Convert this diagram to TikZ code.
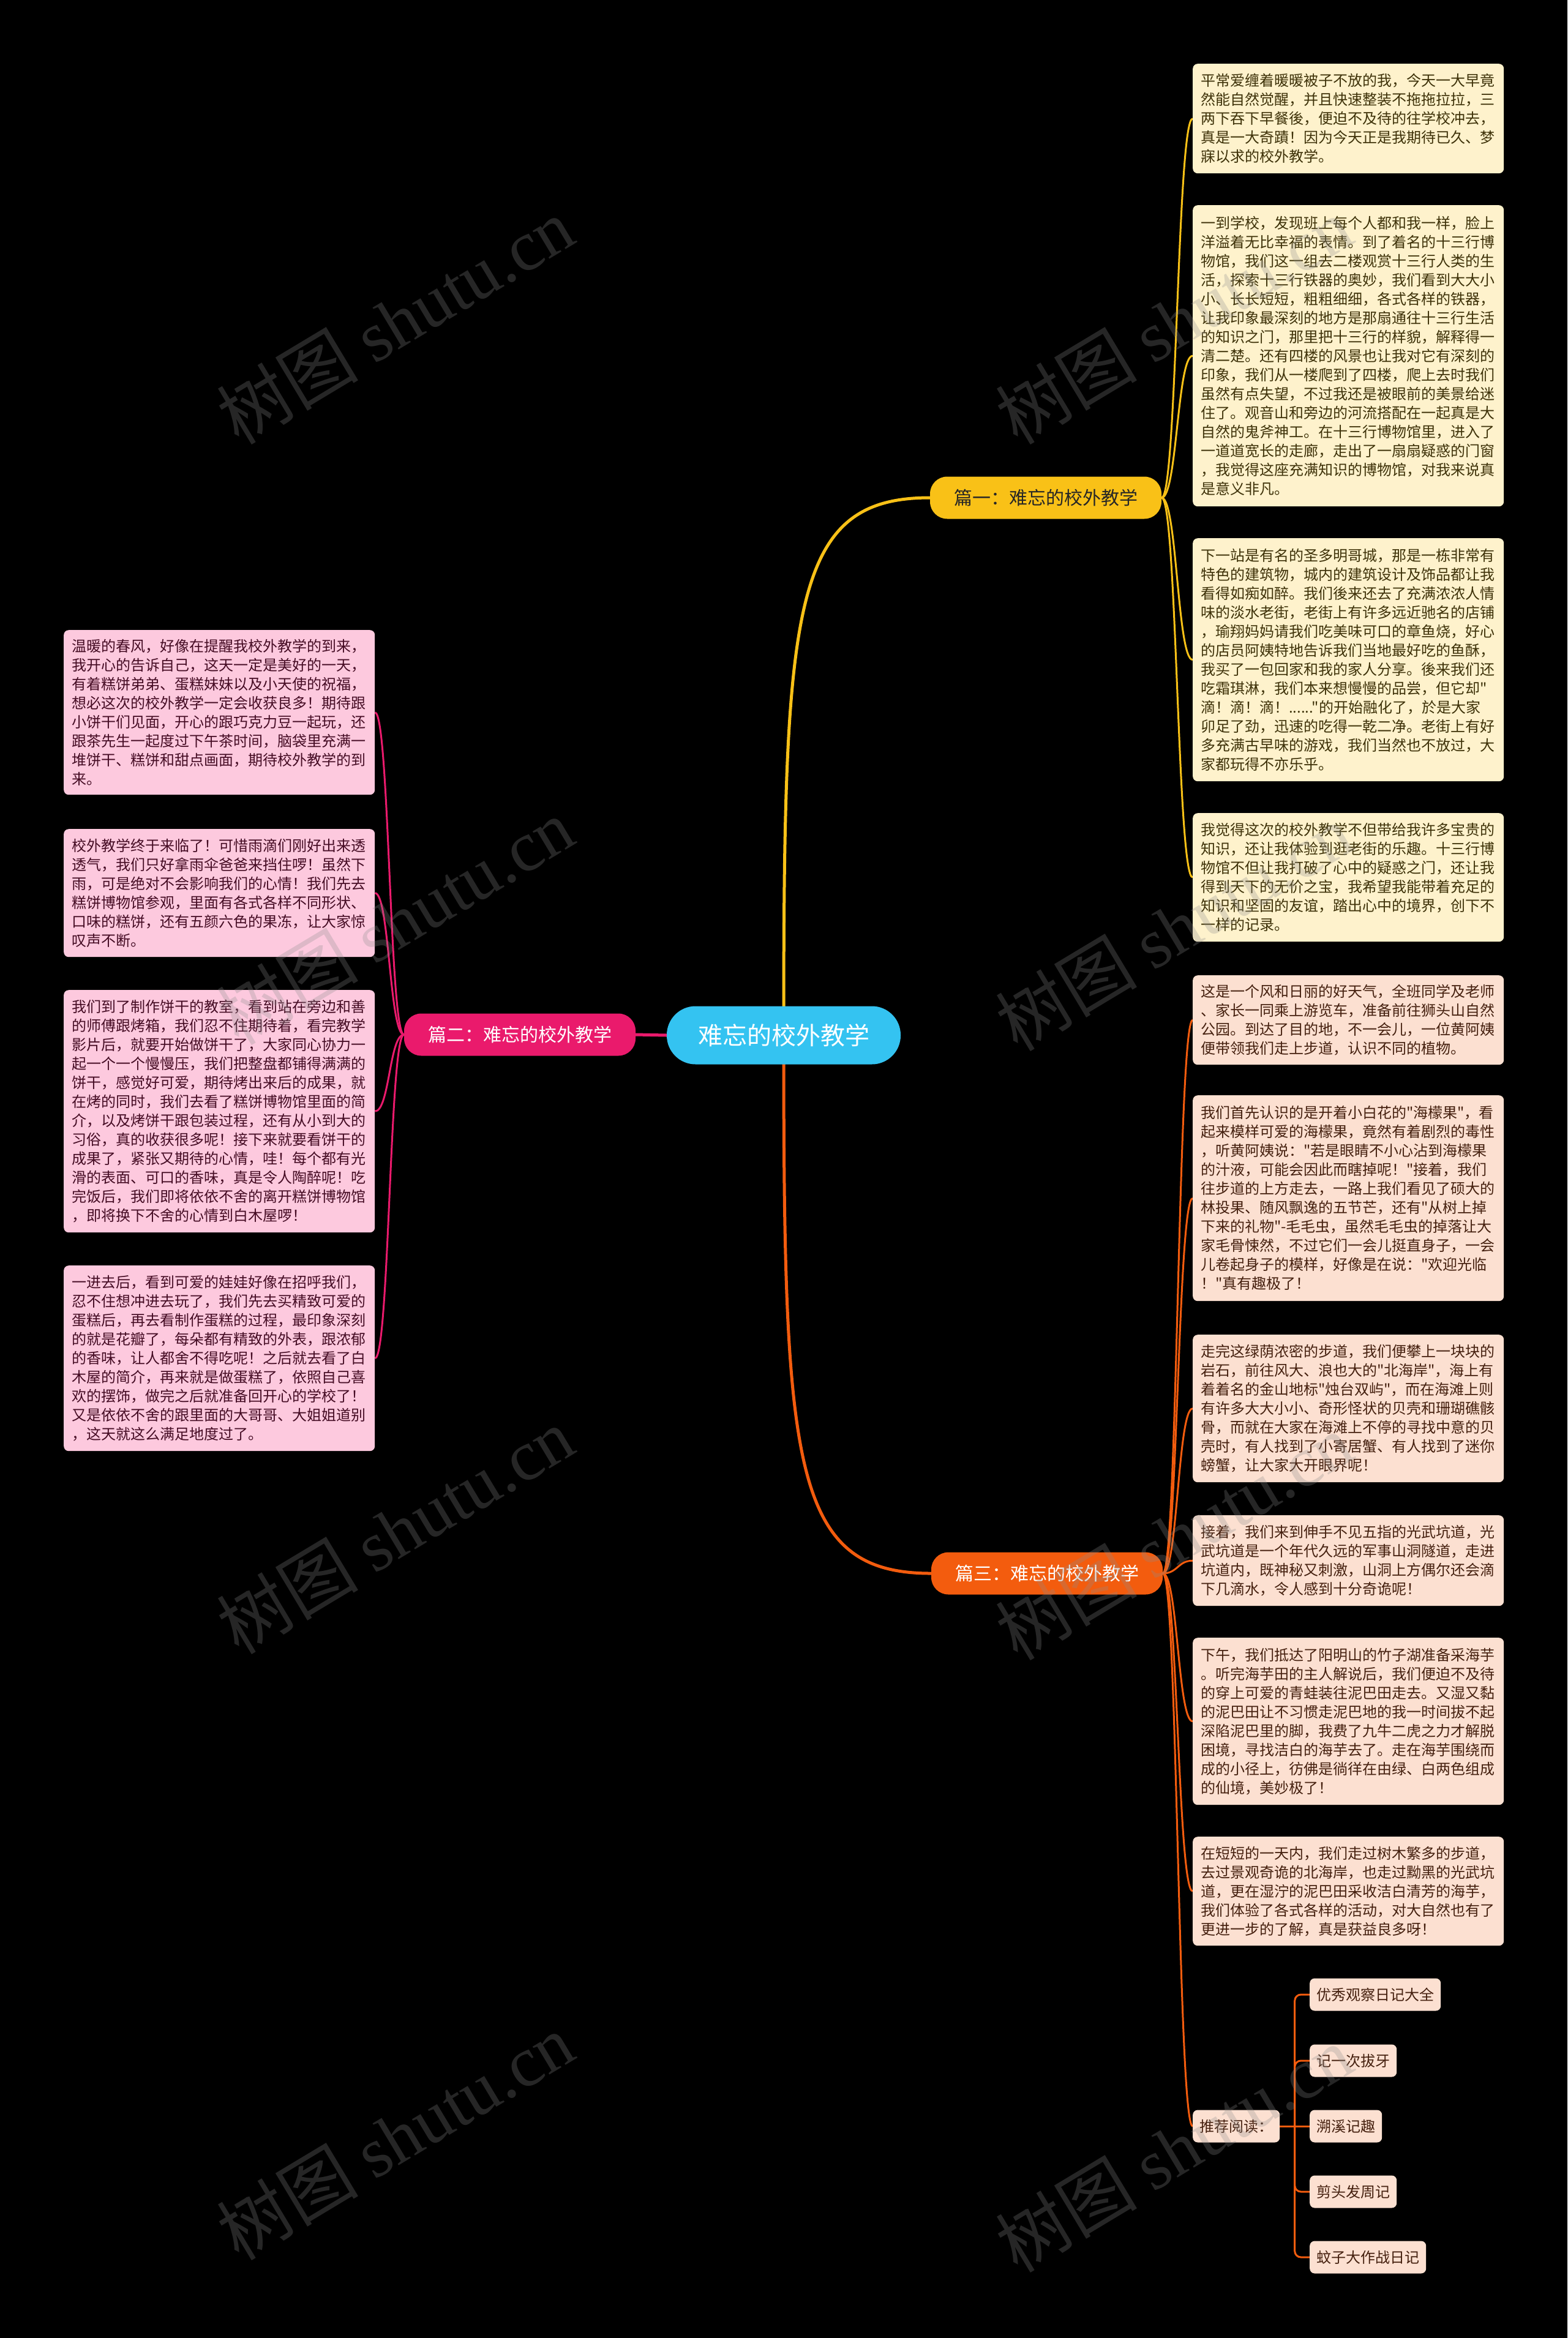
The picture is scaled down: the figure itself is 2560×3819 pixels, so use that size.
\documentclass[tikz,border=0pt]{standalone}
\usepackage{fontspec}
\newfontfamily\cjk{Noto Sans CJK SC}
\newfontfamily\wmlat{Liberation Serif}
\usetikzlibrary{calc}
\pgfdeclarelayer{back}
\pgfdeclarelayer{bg}
\pgfdeclarelayer{front}
\pgfsetlayers{back,bg,main,front}
\definecolor{cyanC}{HTML}{34C3F1}
\definecolor{yelC}{HTML}{F9C117}
\definecolor{pinkC}{HTML}{EA1A6C}
\definecolor{oraC}{HTML}{F35C0E}
\definecolor{creamF}{HTML}{FEF2CC}
\definecolor{creamT}{HTML}{3E3209}
\definecolor{peachF}{HTML}{FCE0D1}
\definecolor{peachT}{HTML}{45200F}
\definecolor{pinkF}{HTML}{FDC9DE}
\definecolor{pinkT}{HTML}{450C24}
\tikzset{
  leaf/.style={anchor=north west, rounded corners=8, inner xsep=13, inner ysep=0, text width=482, align=left, font=\cjk\fontsize{24}{31}\selectfont},
  leafY/.style={leaf, fill=creamF, text=creamT},
  leafO/.style={leaf, fill=peachF, text=peachT},
  leafP/.style={leaf, fill=pinkF, text=pinkT},
  recnode/.style={anchor=west, rounded corners=8, inner xsep=11, inner ysep=0, minimum height=53, fill=peachF, text=peachT, font=\cjk\fontsize{24}{31}\selectfont},
  branchnode/.style={rounded corners=28, minimum width=378, minimum height=69, inner sep=0, font=\cjk\fontsize{30}{36}\selectfont},
  mainline/.style={line width=5, line cap=round},
  leafline/.style={line width=3},
  wm/.style={rotate=31, text=white!55!black, opacity=0.28, font=\cjk\fontsize{116}{120}\selectfont},
}
\newcommand\lkc[4]{\draw[leafline,#1] (#2) .. controls (#3 |- #2) and (#3 |- #4) .. (#4);}
\begin{document}
\begin{tikzpicture}[x=1pt,y=-1pt]
\useasboundingbox (0,0) rectangle (2560,3819);
\begin{pgfonlayer}{back}
\fill[black] (0,0) rectangle (2560,3819);
\end{pgfonlayer}

% central and branch nodes
\node[fill=cyanC, text=white, rounded corners=47, minimum width=382, minimum height=95, inner sep=0, font=\cjk\fontsize{40}{48}\selectfont] (ctr) at (1280,1691) {难忘的校外教学};
\node[branchnode, fill=yelC, text=black!85] (b1) at (1708,813) {篇一：难忘的校外教学};
\node[branchnode, fill=pinkC, text=white] (b2) at (849,1690) {篇二：难忘的校外教学};
\node[branchnode, fill=oraC, text=white] (b3) at (1710,2570) {篇三：难忘的校外教学};

% branch 1 leaves
\node[leafY, minimum height=179] (r1) at (1948,104) {平常爱缠着暖暖被子不放的我，今天一大早竟\\
然能自然觉醒，并且快速整装不拖拖拉拉，三\\
两下吞下早餐後，便迫不及待的往学校冲去，\\
真是一大奇蹟！因为今天正是我期待已久、梦\\
寐以求的校外教学。};
\node[leafY, minimum height=492] (r2) at (1948,335) {一到学校，发现班上每个人都和我一样，脸上\\
洋溢着无比幸福的表情。到了着名的十三行博\\
物馆，我们这一组去二楼观赏十三行人类的生\\
活，探索十三行铁器的奥妙，我们看到大大小\\
小、长长短短，粗粗细细，各式各样的铁器，\\
让我印象最深刻的地方是那扇通往十三行生活\\
的知识之门，那里把十三行的样貌，解释得一\\
清二楚。还有四楼的风景也让我对它有深刻的\\
印象，我们从一楼爬到了四楼，爬上去时我们\\
虽然有点失望，不过我还是被眼前的美景给迷\\
住了。观音山和旁边的河流搭配在一起真是大\\
自然的鬼斧神工。在十三行博物馆里，进入了\\
一道道宽长的走廊，走出了一扇扇疑惑的门窗\\
，我觉得这座充满知识的博物馆，对我来说真\\
是意义非凡。};
\node[leafY, minimum height=397] (r3) at (1948,879) {下一站是有名的圣多明哥城，那是一栋非常有\\
特色的建筑物，城内的建筑设计及饰品都让我\\
看得如痴如醉。我们後来还去了充满浓浓人情\\
味的淡水老街，老街上有许多远近驰名的店铺\\
，瑜翔妈妈请我们吃美味可口的章鱼烧，好心\\
的店员阿姨特地告诉我们当地最好吃的鱼酥，\\
我买了一包回家和我的家人分享。後来我们还\\
吃霜琪淋，我们本来想慢慢的品尝，但它却"\\
滴！滴！滴！......"的开始融化了，於是大家\\
卯足了劲，迅速的吃得一乾二净。老街上有好\\
多充满古早味的游戏，我们当然也不放过，大\\
家都玩得不亦乐乎。};
\node[leafY, minimum height=210] (r4) at (1948,1328) {我觉得这次的校外教学不但带给我许多宝贵的\\
知识，还让我体验到逛老街的乐趣。十三行博\\
物馆不但让我打破了心中的疑惑之门，还让我\\
得到天下的无价之宝，我希望我能带着充足的\\
知识和坚固的友谊，踏出心中的境界，创下不\\
一样的记录。};

% branch 3 leaves
\node[leafO, minimum height=146] (r5) at (1948,1593) {这是一个风和日丽的好天气，全班同学及老师\\
、家长一同乘上游览车，准备前往狮头山自然\\
公园。到达了目的地，不一会儿，一位黄阿姨\\
便带领我们走上步道，认识不同的植物。};
\node[leafO, minimum height=336] (r6) at (1948,1789) {我们首先认识的是开着小白花的"海檬果"，看\\
起来模样可爱的海檬果，竟然有着剧烈的毒性\\
，听黄阿姨说："若是眼睛不小心沾到海檬果\\
的汁液，可能会因此而瞎掉呢！"接着，我们\\
往步道的上方走去，一路上我们看见了硕大的\\
林投果、随风飘逸的五节芒，还有"从树上掉\\
下来的礼物"-毛毛虫，虽然毛毛虫的掉落让大\\
家毛骨悚然，不过它们一会儿挺直身子，一会\\
儿卷起身子的模样，好像是在说："欢迎光临\\
！"真有趣极了！};
\node[leafO, minimum height=241] (r7) at (1948,2180) {走完这绿荫浓密的步道，我们便攀上一块块的\\
岩石，前往风大、浪也大的"北海岸"，海上有\\
着着名的金山地标"烛台双屿"，而在海滩上则\\
有许多大大小小、奇形怪状的贝壳和珊瑚礁骸\\
骨，而就在大家在海滩上不停的寻找中意的贝\\
壳时，有人找到了小寄居蟹、有人找到了迷你\\
螃蟹，让大家大开眼界呢！};
\node[leafO, minimum height=148] (r8) at (1948,2475) {接着，我们来到伸手不见五指的光武坑道，光\\
武坑道是一个年代久远的军事山洞隧道，走进\\
坑道内，既神秘又刺激，山洞上方偶尔还会滴\\
下几滴水，令人感到十分奇诡呢！};
\node[leafO, minimum height=273] (r9) at (1948,2675) {下午，我们抵达了阳明山的竹子湖准备采海芋\\
。听完海芋田的主人解说后，我们便迫不及待\\
的穿上可爱的青蛙装往泥巴田走去。又湿又黏\\
的泥巴田让不习惯走泥巴地的我一时间拔不起\\
深陷泥巴里的脚，我费了九牛二虎之力才解脱\\
困境，寻找洁白的海芋去了。走在海芋围绕而\\
成的小径上，彷佛是徜徉在由绿、白两色组成\\
的仙境，美妙极了！};
\node[leafO, minimum height=178] (r10) at (1948,3000) {在短短的一天内，我们走过树木繁多的步道，\\
去过景观奇诡的北海岸，也走过黝黑的光武坑\\
道，更在湿泞的泥巴田采收洁白清芳的海芋，\\
我们体验了各式各样的活动，对大自然也有了\\
更进一步的了解，真是获益良多呀！};
\node[recnode] (rec) at (1948,3473) {推荐阅读：};
\node[recnode] (c1) at (2139,3258) {优秀观察日记大全};
\node[recnode] (c2) at (2139,3366) {记一次拔牙};
\node[recnode] (c3) at (2139,3473) {溯溪记趣};
\node[recnode] (c4) at (2139,3580) {剪头发周记};
\node[recnode] (c5) at (2139,3687) {蚊子大作战日记};

% branch 2 leaves
\node[leafP, minimum height=269] (l1) at (104,1029) {温暖的春风，好像在提醒我校外教学的到来，\\
我开心的告诉自己，这天一定是美好的一天，\\
有着糕饼弟弟、蛋糕妹妹以及小天使的祝福，\\
想必这次的校外教学一定会收获良多！期待跟\\
小饼干们见面，开心的跟巧克力豆一起玩，还\\
跟茶先生一起度过下午茶时间，脑袋里充满一\\
堆饼干、糕饼和甜点画面，期待校外教学的到\\
来。};
\node[leafP, minimum height=209] (l2) at (104,1354) {校外教学终于来临了！可惜雨滴们刚好出来透\\
透气，我们只好拿雨伞爸爸来挡住啰！虽然下\\
雨，可是绝对不会影响我们的心情！我们先去\\
糕饼博物馆参观，里面有各式各样不同形状、\\
口味的糕饼，还有五颜六色的果冻，让大家惊\\
叹声不断。};
\node[leafP, minimum height=396] (l3) at (104,1617) {我们到了制作饼干的教室，看到站在旁边和善\\
的师傅跟烤箱，我们忍不住期待着，看完教学\\
影片后，就要开始做饼干了，大家同心协力一\\
起一个一个慢慢压，我们把整盘都铺得满满的\\
饼干，感觉好可爱，期待烤出来后的成果，就\\
在烤的同时，我们去看了糕饼博物馆里面的简\\
介，以及烤饼干跟包装过程，还有从小到大的\\
习俗，真的收获很多呢！接下来就要看饼干的\\
成果了，紧张又期待的心情，哇！每个都有光\\
滑的表面、可口的香味，真是令人陶醉呢！吃\\
完饭后，我们即将依依不舍的离开糕饼博物馆\\
，即将换下不舍的心情到白木屋啰！};
\node[leafP, minimum height=303] (l4) at (104,2067) {一进去后，看到可爱的娃娃好像在招呼我们，\\
忍不住想冲进去玩了，我们先去买精致可爱的\\
蛋糕后，再去看制作蛋糕的过程，最印象深刻\\
的就是花瓣了，每朵都有精致的外表，跟浓郁\\
的香味，让人都舍不得吃呢！之后就去看了白\\
木屋的简介，再来就是做蛋糕了，依照自己喜\\
欢的摆饰，做完之后就准备回开心的学校了！\\
又是依依不舍的跟里面的大哥哥、大姐姐道别\\
，这天就这么满足地度过了。};

% connectors
\begin{pgfonlayer}{bg}
\draw[mainline, yelC] (ctr.center) .. controls ($(ctr.center)!0.8!(ctr.center |- b1.west)$) and ($(ctr.center |- b1.west)+(12,0)$) .. (b1.west);
\draw[mainline, oraC] (ctr.center) .. controls ($(ctr.center)!0.8!(ctr.center |- b3.west)$) and ($(ctr.center |- b3.west)+(12,0)$) .. (b3.west);
\draw[mainline, pinkC] (ctr.west) -- (b2.east);
\coordinate (m1) at ($(b1.east)!0.5!(r1.west)$);
\coordinate (m3) at ($(b3.east)!0.5!(r5.west)$);
\coordinate (m2) at ($(b2.west)!0.5!(l1.east)$);
\foreach \n in {r1,r2,r3,r4} {\lkc{yelC}{b1.east}{m1}{\n.west}}
\foreach \n in {r5,r6,r7,r8,r9,r10,rec} {\lkc{oraC}{b3.east}{m3}{\n.west}}
\foreach \n in {l1,l2,l3,l4} {\lkc{pinkC}{b2.west}{m2}{\n.east}}
\coordinate (rt) at ($(rec.east)!0.5!(c3.west)$);
\draw[leafline, oraC] (rec.east) -- (c3.west);
\foreach \n in {c1,c2,c4,c5} {\draw[leafline, oraC, rounded corners=10] (rt) |- (\n.west);}
\end{pgfonlayer}

% watermarks
\begin{pgfonlayer}{front}
\node[wm] (w1) at (645,524) {树图 {\wmlat shutu.cn}};
\node[wm] (w2) at (1917,524) {树图 {\wmlat shutu.cn}};
\node[wm] (w3) at (645,1505) {树图 {\wmlat shutu.cn}};
\node[wm] (w4) at (1917,1515) {树图 {\wmlat shutu.cn}};
\node[wm] (w5) at (645,2500) {树图 {\wmlat shutu.cn}};
\node[wm] (w6) at (1917,2510) {树图 {\wmlat shutu.cn}};
\node[wm] (w7) at (645,3490) {树图 {\wmlat shutu.cn}};
\node[wm] (w8) at (1917,3510) {树图 {\wmlat shutu.cn}};
\end{pgfonlayer}
\end{tikzpicture}
\end{document}
